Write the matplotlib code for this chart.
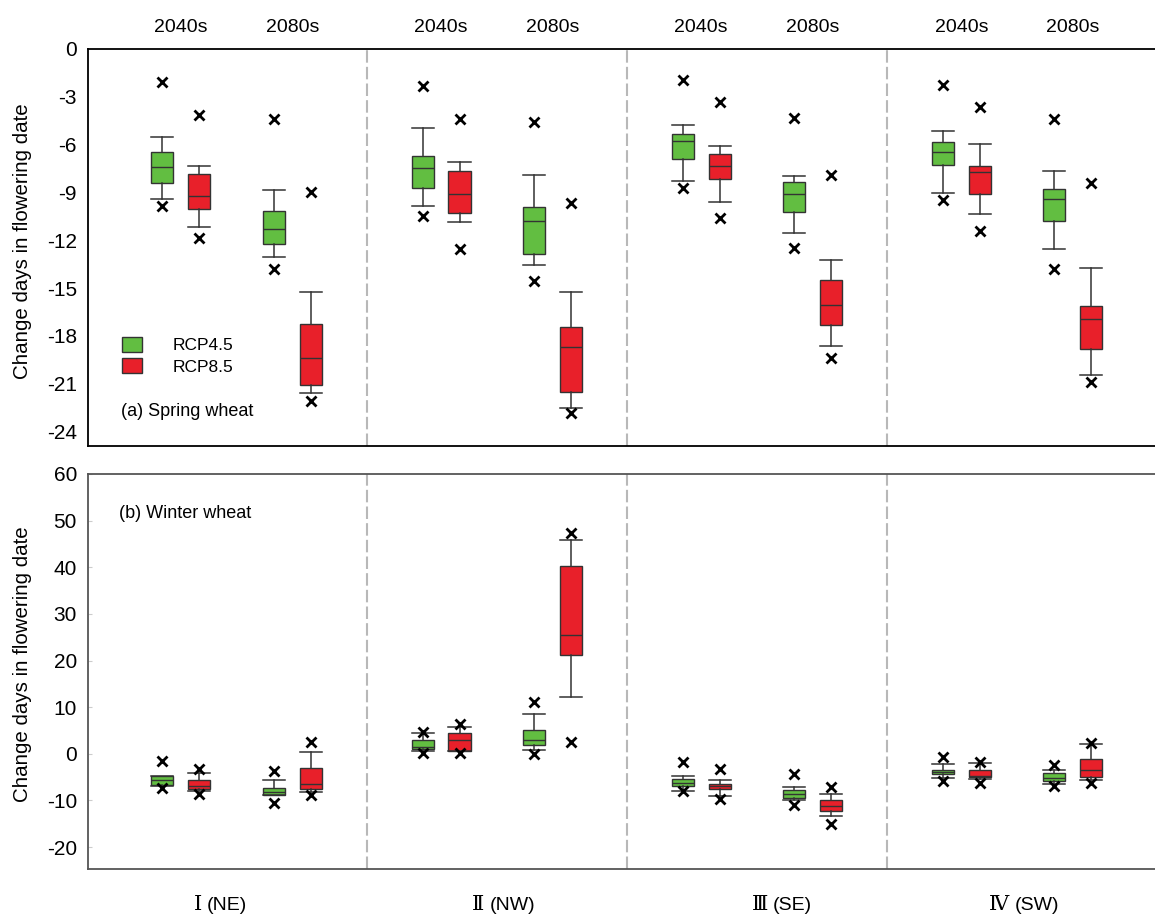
import matplotlib
matplotlib.use("Agg")
import matplotlib.pyplot as plt
from matplotlib.patches import Patch
import matplotlib.transforms as mtransforms

plt.rcParams['font.family'] = ['Liberation Sans', 'DejaVu Sans']
plt.rcParams['axes.unicode_minus'] = False

regions = ["Ⅰ", "Ⅱ", "Ⅲ", "Ⅳ"]
region_codes = ["(NE)", "(NW)", "(SE)", "(SW)"]
periods = ["2040s", "2080s"]
scenarios = ["RCP4.5", "RCP8.5"]

# order inside each region: 2040s RCP4.5, 2040s RCP8.5, 2080s RCP4.5, 2080s RCP8.5
spring_whishi = [-5.54, -7.33, -8.86, -15.26, -4.97, -7.07, -7.89, -15.26,
                 -4.78, -6.11, -7.96, -13.26, -5.14, -5.98, -7.64, -13.73]
spring_q3 = [-6.48, -7.83, -10.15, -17.24, -6.69, -7.66, -9.89, -17.41,
             -5.33, -6.57, -8.32, -14.48, -5.85, -7.33, -8.80, -16.11]
spring_med = [-7.41, -9.22, -11.28, -19.37, -7.49, -9.12, -10.82, -18.69,
              -5.79, -7.31, -9.12, -16.06, -6.46, -7.73, -9.43, -16.91]
spring_q1 = [-8.42, -10.06, -12.23, -21.05, -8.72, -10.32, -12.88, -21.52,
             -6.93, -8.15, -10.25, -17.31, -7.26, -9.12, -10.78, -18.84]
spring_whislo = [-9.43, -11.16, -13.07, -21.58, -9.85, -10.88, -13.52, -22.53,
                 -8.27, -9.62, -11.54, -18.63, -9.05, -10.38, -12.57, -20.42]
spring_hi = [-2.06, -4.15, -4.38, -8.95, -2.32, -4.42, -4.55, -9.66,
             -1.96, -3.31, -4.32, -7.89, -2.25, -3.62, -4.38, -8.38]
spring_lo = [-9.85, -11.83, -13.79, -22.10, -10.48, -12.53, -14.57, -22.84,
             -8.74, -10.59, -12.48, -19.41, -9.47, -11.41, -13.81, -20.88]

winter_whishi = [-4.8, -4.1, -5.6, 0.4, 4.4, 5.7, 8.45, 45.9,
                 -4.8, -5.7, -7.1, -8.6, -2.2, -2.0, -3.4, 2.2]
winter_q3 = [-4.8, -5.7, -7.3, -3.0, 3.0, 4.5, 5.1, 40.3,
             -5.5, -6.5, -7.7, -10.0, -3.4, -3.4, -4.2, -1.1]
winter_med = [-5.7, -6.9, -8.1, -6.5, 1.5, 3.0, 3.0, 25.4,
              -6.2, -7.0, -8.6, -11.1, -3.8, -4.7, -5.2, -3.4]
winter_q1 = [-6.8, -7.5, -8.9, -7.5, 1.0, 0.7, 1.9, 21.2,
             -7.0, -7.6, -9.4, -12.3, -4.3, -4.9, -5.9, -5.0]
winter_whislo = [-7.0, -8.0, -8.9, -8.2, 0.5, 0.5, 0.9, 12.2,
                 -7.9, -9.1, -10.0, -13.4, -5.2, -5.3, -6.4, -5.6]
winter_hi = [-1.6, -3.2, -3.7, 2.5, 4.6, 6.4, 11.2, 47.4,
             -1.8, -3.2, -4.3, -7.1, -0.6, -1.8, -2.5, 2.3]
winter_lo = [-7.4, -8.7, -10.5, -8.9, 0.1, 0.1, 0.0, 2.55,
             -8.0, -9.8, -10.9, -15.1, -5.8, -6.2, -6.9, -6.2]

GREEN = '#62be41'
RED = '#e8202a'
offsets = [0.215, 0.357, 0.643, 0.785]
box_w = 0.085


def make_stats(whislo, q1, med, q3, whishi, lo, hi):
    stats = []
    for i in range(len(med)):
        stats.append(dict(whislo=whislo[i], q1=q1[i], med=med[i], q3=q3[i],
                          whishi=whishi[i], fliers=[lo[i], hi[i]]))
    return stats


def draw_boxes(ax, stats):
    positions = [r + o for r in range(4) for o in offsets]
    bp = ax.bxp(stats, positions=positions, widths=box_w, capwidths=box_w,
                patch_artist=True, manage_ticks=False,
                boxprops=dict(edgecolor='#333333', linewidth=1.0),
                medianprops=dict(color='#333333', linewidth=1.0),
                whiskerprops=dict(color='#333333', linewidth=1.1),
                capprops=dict(color='#333333', linewidth=1.1),
                flierprops=dict(marker='x', markersize=7.5, markeredgewidth=2.0,
                                markeredgecolor='black', linestyle='none'))
    for i, box in enumerate(bp['boxes']):
        box.set_facecolor(GREEN if i % 2 == 0 else RED)
    for x in [1, 2, 3]:
        ax.axvline(x, color='#b8b8b8', linewidth=1.5, linestyle=(0, (6, 2)), zorder=0)
    ax.set_xlim(-0.071, 4.03)
    ax.set_xticks([])
    ax.spines['right'].set_visible(False)


fig = plt.figure(figsize=(11.55, 9.15), dpi=100)
ax1 = fig.add_axes([88 / 1155, 0.5126, 1067 / 1155, 0.4339])
ax2 = fig.add_axes([88 / 1155, 0.0503, 1067 / 1155, 0.4317])

draw_boxes(ax1, make_stats(spring_whislo, spring_q1, spring_med, spring_q3,
                           spring_whishi, spring_lo, spring_hi))
draw_boxes(ax2, make_stats(winter_whislo, winter_q1, winter_med, winter_q3,
                           winter_whishi, winter_lo, winter_hi))

ax1.set_ylim(-24.9, 0)
ax1.set_yticks(range(0, -25, -3))
ax1.tick_params(axis='y', length=0, pad=8, labelsize=15)
for s in ['top', 'bottom', 'left']:
    ax1.spines[s].set_color('black')
    ax1.spines[s].set_linewidth(1.3)

ax2.set_ylim(-24.7, 60)
ax2.set_yticks(range(-20, 61, 10))
ax2.tick_params(axis='y', direction='in', length=3, color='#cccccc', pad=8, labelsize=15)
for s in ['top', 'bottom', 'left']:
    ax2.spines[s].set_color('#555555')
    ax2.spines[s].set_linewidth(1.3)

fig.text(23 / 1155, 0.7366, 'Change days in flowering date', rotation=90,
         ha='center', va='center', fontsize=14.8)
fig.text(23 / 1155, 0.2743, 'Change days in flowering date', rotation=90,
         ha='center', va='center', fontsize=14.8)

# period headers above the top panel
trans = mtransforms.blended_transform_factory(ax1.transData, fig.transFigure)
for r in range(4):
    for k, period in enumerate(periods):
        xc = r + (offsets[2 * k] + offsets[2 * k + 1]) / 2
        ax1.text(xc, 1 - 27 / 915, period, transform=trans, ha='center',
                 va='center', fontsize=14)

# region names below the bottom panel
label_split = [0.386, 1.472, 2.562, 3.491]
trans2 = mtransforms.blended_transform_factory(ax2.transData, fig.transFigure)
for r in range(4):
    ax2.text(label_split[r] - 0.02, 1 - 905 / 915, regions[r], transform=trans2,
             ha='right', va='center', fontsize=15, family=['DejaVu Serif'])
    ax2.text(label_split[r], 1 - 905 / 915, region_codes[r], transform=trans2,
             ha='left', va='center', fontsize=14)

ax1.text(0.031, 0.0856, '(a) Spring wheat', transform=ax1.transAxes,
         ha='left', va='center', fontsize=13)
ax2.text(0.029, 0.901, '(b) Winter wheat', transform=ax2.transAxes,
         ha='left', va='center', fontsize=13)

handles = [Patch(facecolor=GREEN, edgecolor='#333333', linewidth=1.0),
           Patch(facecolor=RED, edgecolor='#333333', linewidth=1.0)]
ax1.legend(handles, scenarios, loc='upper left', bbox_to_anchor=(0.032, 0.275),
           frameon=False, borderpad=0, borderaxespad=0, fontsize=12.5,
           handlelength=1.15, handleheight=0.95, handletextpad=1.75, labelspacing=0.3)

fig.savefig('out.png', dpi=100)
